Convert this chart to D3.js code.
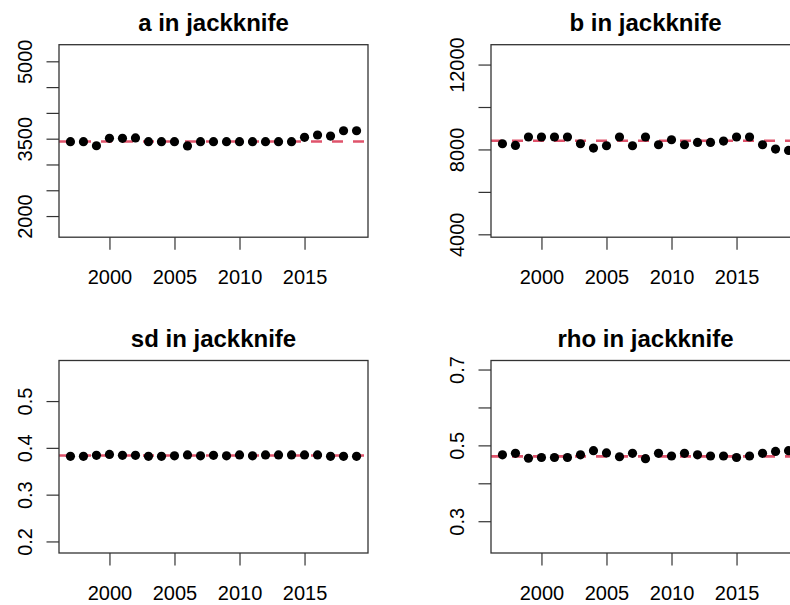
<!DOCTYPE html>
<html><head><meta charset="utf-8">
<script src="https://cdn.jsdelivr.net/npm/d3@7"></script>
<style>html,body{margin:0;padding:0;background:#fff;overflow:hidden}</style>
</head><body><svg id="c" width="790" height="605"></svg>
<script>
// ---- data ----
const years = [1997,1998,1999,2000,2001,2002,2003,2004,2005,2006,2007,2008,2009,2010,2011,2012,2013,2014,2015,2016,2017,2018,2019];
const aValues = [3441,3441,3363,3507,3507,3515,3441,3441,3441,3360,3441,3441,3441,3441,3441,3441,3441,3441,3526,3571,3551,3654,3654];
const bValues = [8269,8189,8585,8585,8585,8585,8269,8066,8174,8585,8174,8585,8221,8457,8221,8330,8330,8396,8585,8585,8221,8019,7953];
const sdValues = [0.382,0.382,0.384,0.386,0.384,0.384,0.382,0.382,0.383,0.385,0.383,0.384,0.383,0.385,0.383,0.385,0.385,0.385,0.385,0.385,0.382,0.382,0.382];
const rhoValues = [0.475,0.479,0.466,0.468,0.468,0.468,0.475,0.486,0.480,0.470,0.479,0.465,0.479,0.472,0.479,0.475,0.472,0.472,0.468,0.472,0.479,0.484,0.486];
const aMean = 3445, bMean = 8409, sdMean = 0.3837, rhoMean = 0.471;
const titles = ["a in jackknife", "b in jackknife", "sd in jackknife", "rho in jackknife"];
const xTicks = [2000, 2005, 2010, 2015];
const aTicks = [2000, 2500, 3000, 3500, 4000, 4500, 5000];
const aTickLabels = [2000, 3500, 5000];
const bTicks = [4000, 6000, 8000, 10000, 12000];
const bTickLabels = [4000, 8000, 12000];
const sdTicks = [0.2, 0.3, 0.4, 0.5];
const sdTickLabels = [0.2, 0.3, 0.4, 0.5];
const rhoTicks = [0.3, 0.4, 0.5, 0.6, 0.7];
const rhoTickLabels = [0.3, 0.5, 0.7];

// ---- layout ----
const svg = d3.select("#c");
const W = 309, H = 192.5;
const panels = [
  {title: titles[0], vals: aValues, mean: aMean, dom: [1590, 5322], ticks: aTicks, labels: aTickLabels, fmt: d3.format("d"), left: 59, top: 44.7},
  {title: titles[1], vals: bValues, mean: bMean, dom: [3864, 12936], ticks: bTicks, labels: bTickLabels, fmt: d3.format("d"), left: 491, top: 44.7},
  {title: titles[2], vals: sdValues, mean: sdMean, dom: [0.1753, 0.5867], ticks: sdTicks, labels: sdTickLabels, fmt: d3.format(".1f"), left: 59, top: 360.5},
  {title: titles[3], vals: rhoValues, mean: rhoMean, dom: [0.2162, 0.7238], ticks: rhoTicks, labels: rhoTickLabels, fmt: d3.format(".1f"), left: 491, top: 360.5}
];
const font = "'Liberation Sans', Arial, sans-serif";

panels.forEach(p => {
  const g = svg.append("g").attr("transform", `translate(${p.left},${p.top})`);
  const x = d3.scaleLinear().domain([1996.12, 2019.88]).range([0, W]);
  const y = d3.scaleLinear().domain(p.dom).range([H, 0]);

  // title
  g.append("text").attr("x", W / 2).attr("y", -14)
    .attr("text-anchor", "middle").attr("font-family", font)
    .attr("font-weight", "bold").attr("font-size", 24).attr("fill", "#000")
    .text(p.title);

  // x axis (ticks only, box drawn separately)
  const xAxis = d3.axisBottom(x).tickValues(xTicks).tickFormat(d3.format("d"))
    .tickSize(12.5).tickPadding(20).tickSizeOuter(0);
  const xg = g.append("g").attr("transform", `translate(0,${H})`).call(xAxis);
  xg.select(".domain").remove();
  xg.selectAll("line").attr("stroke", "#333").attr("stroke-width", 1.2);
  xg.selectAll("text").attr("font-family", font).attr("font-size", 20).attr("fill", "#000");

  // y axis
  const yAxis = d3.axisLeft(y).tickValues(p.ticks).tickSize(12.5).tickSizeOuter(0)
    .tickFormat(d => p.labels.some(l => Math.abs(l - d) < 1e-9) ? p.fmt(d) : "");
  const yg = g.append("g").call(yAxis);
  yg.select(".domain").remove();
  yg.selectAll("line").attr("stroke", "#333").attr("stroke-width", 1.2);
  yg.selectAll("text")
    .attr("font-family", font).attr("font-size", 20).attr("fill", "#000")
    .attr("x", null).attr("dy", null)
    .attr("text-anchor", "middle")
    .attr("transform", "translate(-27,0) rotate(-90)");

  // clip for plot region
  const cid = "clip" + p.left + "_" + Math.round(p.top);
  g.append("clipPath").attr("id", cid).append("rect").attr("width", W).attr("height", H);
  const pg = g.append("g").attr("clip-path", `url(#${cid})`);

  // mean dashed line
  pg.append("line").attr("x1", x(1996.12)).attr("x2", x(2019.88))
    .attr("y1", y(p.mean)).attr("y2", y(p.mean))
    .attr("stroke", "#DF536B").attr("stroke-width", 2.6)
    .attr("stroke-dasharray", "11,10");

  // points
  pg.selectAll("circle").data(years).join("circle")
    .attr("cx", d => x(d)).attr("cy", (d, i) => y(p.vals[i]))
    .attr("r", 4.6).attr("fill", "#000");

  // box
  g.append("rect").attr("width", W).attr("height", H)
    .attr("fill", "none").attr("stroke", "#333").attr("stroke-width", 1.3);
});
</script>
</body></html>
